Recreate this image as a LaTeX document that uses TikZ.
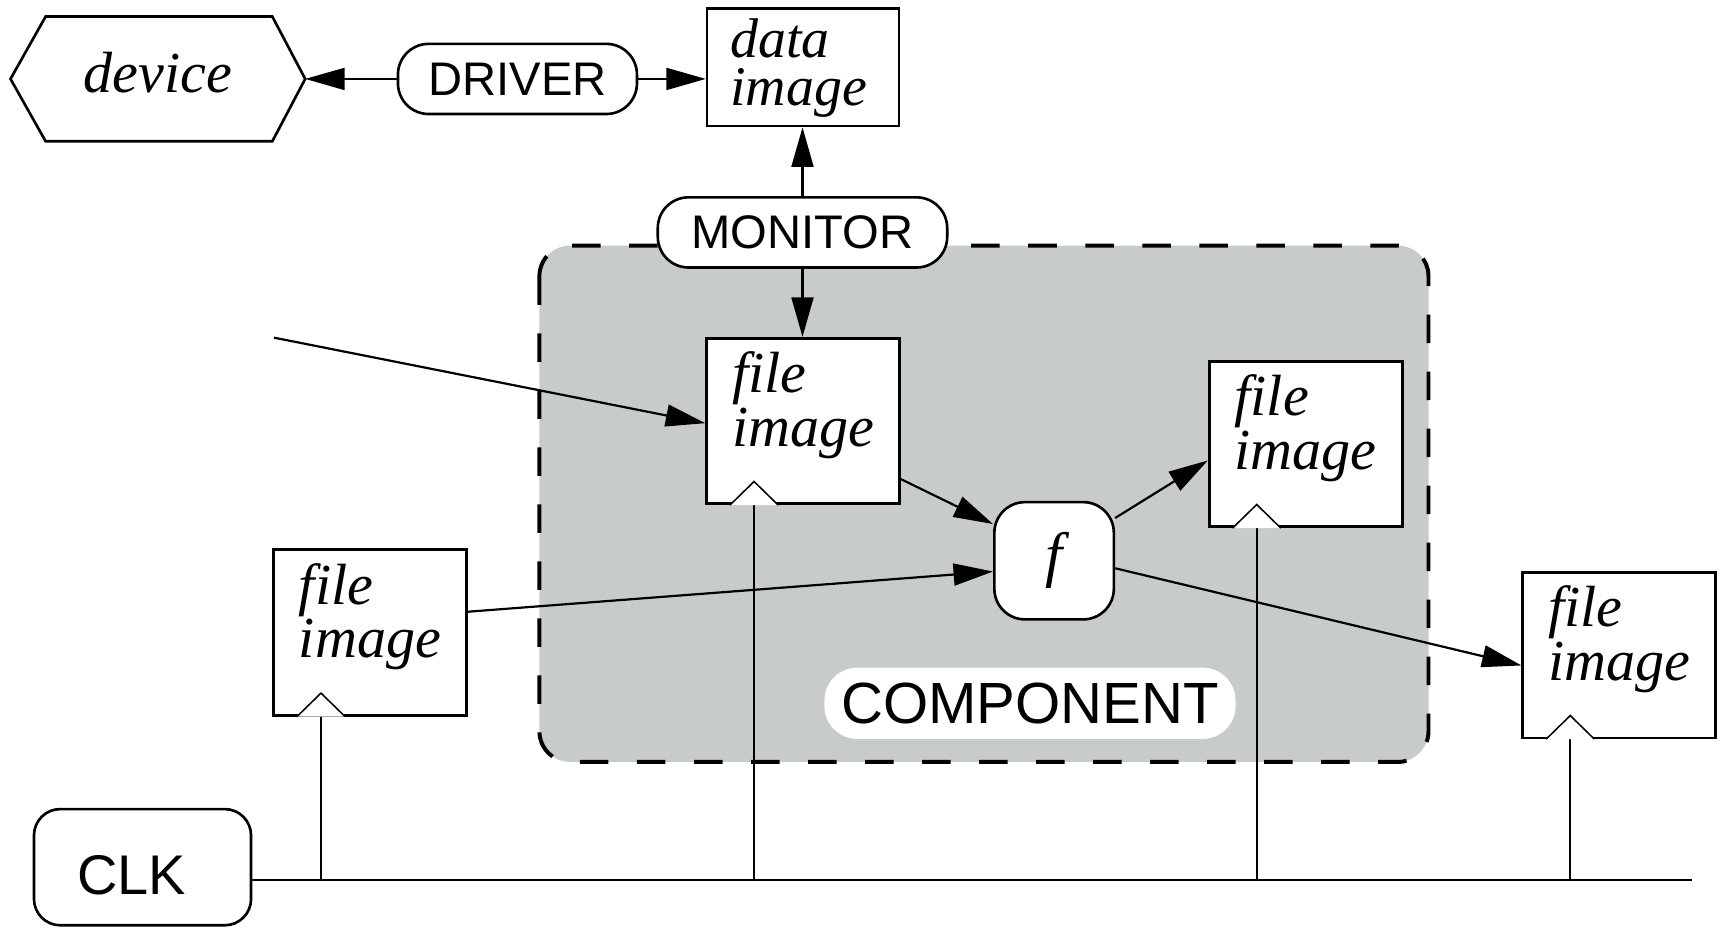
\documentclass[tikz,border=0pt]{standalone}
\usepackage{fontspec}
\setmainfont{Liberation Serif}
\setsansfont{Liberation Sans}
\usetikzlibrary{arrows.meta,calc}
\definecolor{compgrey}{HTML}{C8CBCC}

\begin{document}
\begin{tikzpicture}[x=0.5pt,y=-0.5pt,
  box/.style={draw, line width=1.2pt, fill=white, inner sep=0pt},
  fimg/.style={box, minimum width=88pt, minimum height=75.5pt},
  itext/.style={font=\fontsize{26.5}{24.5}\selectfont\itshape, align=left, inner sep=0pt, anchor=north west},
  pill/.style={box, rounded corners=14pt, font=\fontsize{21.5}{24}\selectfont\sffamily},
  conn/.style={line width=1pt, -{Triangle[length=18pt,width=10pt]}},
  clkline/.style={line width=0.8pt},
  clktri/.style={line width=0.7pt, fill=white},
]
\useasboundingbox (0,0) rectangle (1568,846);

% the component region
\draw[fill=compgrey, line width=1.8pt, dash pattern=on 13pt off 13pt, rounded corners=14pt]
  (492,224) rectangle (1303,695);
\node[fill=white, rounded corners=15pt, minimum width=187.5pt, minimum height=32.5pt,
      inner sep=0pt, font=\fontsize{26.5}{30}\selectfont\sffamily] (complbl) at (939.5,641.5) {COMPONENT};

% device (hexagon outline drawn from the node's anchors)
\node[minimum width=134pt, minimum height=56.5pt, inner sep=0pt, text height=18pt, text depth=6pt,
      font=\fontsize{26.5}{28}\selectfont\itshape] (dev) at (144,72) {device};
\draw[line width=1.2pt] (dev.west) -- ($(dev.north west)+(32,0)$) -- ($(dev.north east)+(-30,0)$)
  -- (dev.east) -- ($(dev.south east)+(-30,0)$) -- ($(dev.south west)+(32,0)$) -- cycle;

\node[pill, minimum width=109pt, minimum height=32pt] (drv) at (472,72) {DRIVER};
\node[box, minimum width=87.5pt, minimum height=53.5pt] (data) at (732.5,61.5) {};
\node[itext, font=\fontsize{25.5}{22}\selectfont\itshape] (datatxt) at ($(data.north west)+(22,10)$) {data\\image};

\node[pill, minimum width=132pt, minimum height=32pt] (mon) at (732,212) {MONITOR};

% file images
\node[fimg] (fi1) at (732.5,384) {};
\node[fimg] (fi2) at (1191,405) {};
\node[fimg] (fi3) at (337.5,577) {};
\node[fimg] (fi4) at (1477,597.5) {};
\foreach \n in {1,2,3,4}{
  \node[itext] (fi\n txt) at ($(fi\n.north west)+(24,13)$) {file\\image};
}

\node[box, rounded corners=14pt, minimum width=54.5pt, minimum height=53.5pt,
      font=\fontsize{28}{30}\selectfont\itshape] (f) at (961.5,511.5) {f};

% clock
\node[box, rounded corners=12pt, minimum width=99pt, minimum height=53pt, text height=24.7pt, text depth=0pt,
      font=\fontsize{25.5}{28}\selectfont\sffamily] (clk) at (130,791) {CLK\hspace*{10pt}};
\coordinate (clkend) at (1543,803);
\draw[line width=0.9pt] (clk.east |- clkend) -- (clkend);
\foreach \n in {1,2,3,4}{
  \coordinate (ck\n) at ($(fi\n.south west)+(44.5,0)$);
  \draw[clkline] (ck\n) -- (ck\n |- clkend);
  \draw[clktri] ($(ck\n)+(-22,0)$) -- ($(ck\n)+(0,-21.5)$) -- ($(ck\n)+(22,0)$);
}

% connectors
\draw[conn] (drv.west) -- (dev.east);
\draw[conn] (drv.east) -- (drv.east -| data.west);
\draw[conn] (mon.north) -- (mon.north |- data.south);
\draw[conn] (mon.south) -- (mon.south |- fi1.north);
\coordinate (in1) at (250,308);
\draw[conn] (in1) -- ([yshift=-1pt]fi1.west);
\draw[conn] ([yshift=-26.5pt]fi1.east) -- (f.149);
\draw[conn] ([yshift=9.5pt]fi3.east) -- (f.190);
\draw[conn] (f.35) -- ([yshift=-7.5pt]fi2.west);
\draw[conn] (f.-7) -- ([yshift=-4.75pt]fi4.west);
\end{tikzpicture}
\end{document}
